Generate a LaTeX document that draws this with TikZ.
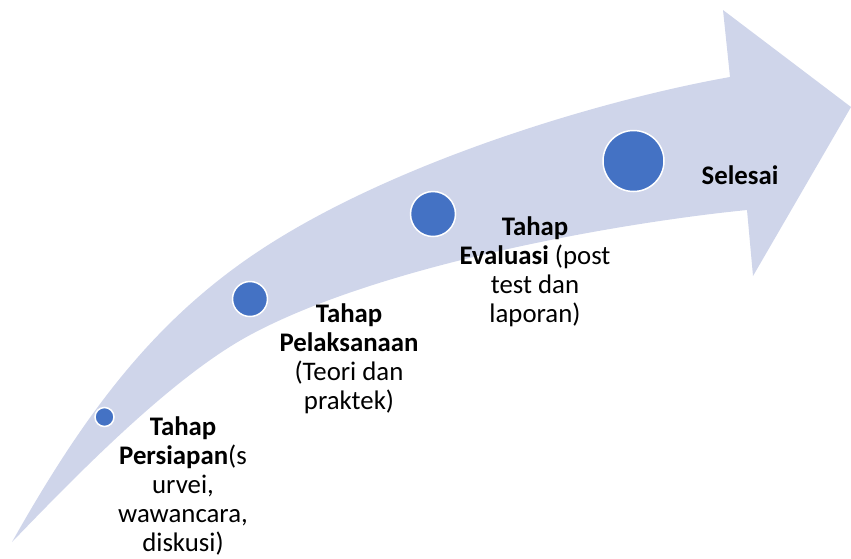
\documentclass[tikz,border=0pt]{standalone}
\usepackage{fontspec}
\setmainfont{Carlito}
\usepackage{tikz}
\definecolor{bandcol}{HTML}{CFD5EA}
\definecolor{dotcol}{HTML}{4472C4}

\begin{document}
\begin{tikzpicture}[x=1pt,y=-1pt,
    dot/.style={circle,fill=dotcol,draw=white,line width=1.5pt,inner sep=0pt},
    stage/.style={align=center,inner sep=0pt,font=\fontsize{26.8}{29}\selectfont}]
    \useasboundingbox (0,0) rectangle (851,558);

    % Arrow body
    \fill[bandcol] (12,542) .. controls (83,416) and (150,326) .. (250,257)
        .. controls (385,164) and (600,100) .. (730,77)
        -- (723,10) -- (851,107) -- (753,276) -- (747,210)
        .. controls (617,223) and (380,265) .. (250,335)
        .. controls (170,378) and (72,480) .. (12,542) -- cycle;

    % Stage dots
    \node[dot,minimum size=19pt] (dot1) at (104.5,417) {};
    \node[dot,minimum size=35pt] (dot2) at (250,299) {};
    \node[dot,minimum size=45pt] (dot3) at (433,214) {};
    \node[dot,minimum size=61pt] (dot4) at (633.5,161) {};

    % Labels
    \node[stage] (persiapan) at (183,486) {\textbf{Tahap}\\\textbf{Persiapan}(s\\urvei,\\wawancara,\\diskusi)};
    \node[stage] (pelaksanaan) at (349,359) {\textbf{Tahap}\\\textbf{Pelaksanaan}\\(Teori dan\\praktek)};
    \node[stage] (evaluasi) at (535,272) {\textbf{Tahap}\\\textbf{Evaluasi} (post\\test dan\\laporan)};
    \node[stage] (selesai) at (740,175) {\textbf{Selesai}};
\end{tikzpicture}
\end{document}
